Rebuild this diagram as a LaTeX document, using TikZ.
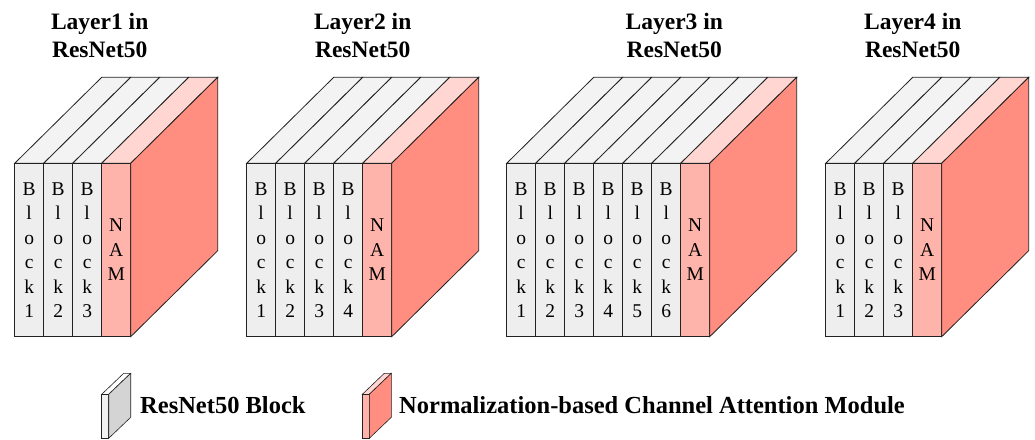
\documentclass[tikz,border=0pt]{standalone}
\usepackage{fontspec}
\setmainfont{Liberation Serif}

\definecolor{edge}{HTML}{222222}
\definecolor{blkfront}{HTML}{EEEEEE}
\definecolor{blktop}{HTML}{F3F3F3}
\definecolor{namfront}{HTML}{FFB4AB}
\definecolor{namtop}{HTML}{FFD6D1}
\definecolor{namside}{HTML}{FF8E80}
\definecolor{legside}{HTML}{D4D4D4}
\definecolor{legfront}{HTML}{F2F2F2}

% slice geometry (pt)
\def\stkW{29}
\def\stkDX{87}
\def\stkDY{86}
\def\stkTop{-163.3}
\def\stkBot{-336.7}
\def\stkH{173.4}
\def\stkMid{-250}

% one stage: blocks followed by the attention module
% #1 = left x, #2 = number of blocks, #3 = name prefix
\newcommand{\resstack}[3]{%
  \foreach \i in {1,...,#2}{%
    \pgfmathsetmacro\xa{#1+(\i-1)*\stkW}
    \draw[face, fill=blktop] (\xa,\stkTop) -- ++(\stkW,0) -- ++(\stkDX,\stkDY) -- ++(-\stkW,0) -- cycle;
    \draw[face, fill=blkfront] (\xa,\stkBot) rectangle ++(\stkW,\stkH);
    \node[blocktext] (#3b\i) at (\xa+\stkW/2,\stkMid) {B\\l\\o\\c\\k\\\i};
  }
  \pgfmathsetmacro\xn{#1+#2*\stkW}
  \draw[face, fill=namtop] (\xn,\stkTop) -- ++(\stkW,0) -- ++(\stkDX,\stkDY) -- ++(-\stkW,0) -- cycle;
  \draw[face, fill=namfront] (\xn,\stkBot) rectangle ++(\stkW,\stkH);
  \draw[face, fill=namside] (\xn+\stkW,\stkBot) -- ++(0,\stkH) -- ++(\stkDX,\stkDY) -- ++(0,-\stkH) -- cycle;
  \node[blocktext] (#3nam) at (\xn+\stkW/2,\stkMid) {N\\A\\M};
}

% small legend slab: #1 = front left x, #2 top fill, #3 front fill, #4 side fill
\newcommand{\legslab}[4]{%
  \draw[legface, fill=#2] (#1,-394.3) -- ++(7,0) -- ++(22,21) -- ++(-7,0) -- cycle;
  \draw[legface, fill=#3] (#1,-438.3) rectangle ++(7,44);
  \draw[legface, fill=#4] (#1+7,-438.3) -- ++(0,44) -- ++(22,21) -- ++(0,-44) -- cycle;
}

\begin{document}
\begin{tikzpicture}[x=1pt,y=1pt,
  face/.style={draw=edge, line width=0.8pt, line join=miter},
  legface/.style={draw=edge, line width=0.6pt},
  blocktext/.style={font=\fontsize{19.5}{24.5}\selectfont, align=center, inner sep=0pt},
  titletext/.style={font=\fontsize{23.5}{28}\selectfont\bfseries, anchor=base, inner sep=0pt},
  legtext/.style={font=\fontsize{24.5}{29}\selectfont\bfseries, anchor=base west, inner sep=0pt}]
\useasboundingbox (0,0) rectangle (1035,-439);

% stage titles
\node[titletext] (t1a) at (99.7,-29) {Layer1 in};
\node[titletext] (t1b) at (99.7,-57.3) {ResNet50};
\node[titletext] (t2a) at (362.7,-29) {Layer2 in};
\node[titletext] (t2b) at (362.7,-57.3) {ResNet50};
\node[titletext] (t3a) at (674.3,-29) {Layer3 in};
\node[titletext] (t3b) at (674.3,-57.3) {ResNet50};
\node[titletext] (t4a) at (912.7,-29) {Layer4 in};
\node[titletext] (t4b) at (912.7,-57.3) {ResNet50};

% stages
\resstack{14.7}{3}{s1}
\resstack{246.7}{4}{s2}
\resstack{506.7}{6}{s3}
\resstack{825.7}{3}{s4}

% legend
\legslab{101.7}{white}{legfront}{legside}
\node[legtext] (legres) at (140,-413.3) {ResNet50 Block};
\legslab{362.3}{namtop}{namfront}{namside}
\node[legtext] (legnam) at (399,-413.3) {Normalization-based Channel Attention Module};
\end{tikzpicture}
\end{document}
